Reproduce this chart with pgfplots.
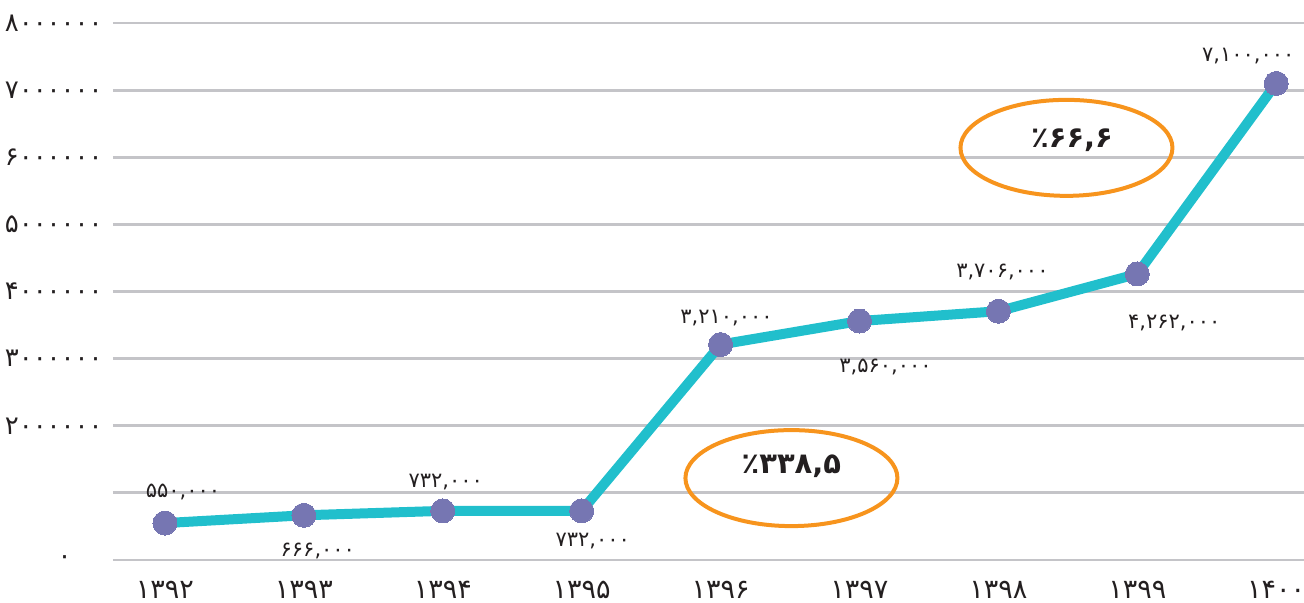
\documentclass[border=0pt]{standalone}
\usepackage{fontspec}
\usepackage{pgfplots}
\pgfplotsset{compat=1.18}
\newfontfamily\pfont{DejaVu Sans}
\definecolor{linec}{HTML}{21BFCC}
\definecolor{markc}{HTML}{7676B2}
\definecolor{gridc}{HTML}{C4C4C8}
\definecolor{orangec}{HTML}{F7941D}
\definecolor{txt}{HTML}{231F20}
\begin{document}
\begin{tikzpicture}
\path[use as bounding box] (-56.5pt,-21.5pt) rectangle (595.5pt,280pt);
\begin{axis}[
  at={(0,0)}, anchor=south west,
  scale only axis, width=595.5pt, height=268.5pt,
  xmin=-0.374, xmax=8.2, ymin=0, ymax=8000000,
  xtick={0,...,8},
  xticklabels={۱۳۹۲,۱۳۹۳,۱۳۹۴,۱۳۹۵,۱۳۹۶,۱۳۹۷,۱۳۹۸,۱۳۹۹,۱۴۰۰},
  ytick={0,1000000,2000000,3000000,4000000,5000000,6000000,7000000,8000000},
  yticklabels={۰\rule{15.5pt}{0pt},,۲۰۰۰۰۰۰,۳۰۰۰۰۰۰,۴۰۰۰۰۰۰,۵۰۰۰۰۰۰,۶۰۰۰۰۰۰,۷۰۰۰۰۰۰,۸۰۰۰۰۰۰},
  scaled y ticks=false,
  ymajorgrids, grid style={gridc, line width=1.4pt},
  axis line style={draw=none}, major tick length=0pt,
  xticklabel style={font=\pfont\fontsize{13.5}{14}\selectfont, text=txt, anchor=center, inner sep=0pt, yshift=-15pt},
  yticklabel style={font=\pfont\fontsize{13}{14}\selectfont, text=txt, anchor=east, inner sep=0pt, xshift=-5pt},
  clip=false,
]
\addplot[linec, line width=5pt, line join=round, mark=*, mark size=6pt, mark options={markc, fill=markc, line width=0pt}]
  coordinates {(0,550000)(1,666000)(2,732000)(3,732000)(4,3210000)(5,3560000)(6,3706000)(7,4262000)(8,7100000)};
\begin{scope}[every node/.style={font=\pfont\fontsize{10.5}{12}\selectfont, text=txt, inner sep=0pt}]
\node[xshift=9pt, yshift=15.5pt] at (axis cs:0,550000) {۵۵۰,۰۰۰};
\node[xshift=7pt, yshift=-18pt] at (axis cs:1,666000) {۶۶۶,۰۰۰};
\node[xshift=1.5pt, yshift=14.5pt] at (axis cs:2,732000) {۷۳۲,۰۰۰};
\node[xshift=5.5pt, yshift=-15pt] at (axis cs:3,732000) {۷۳۲,۰۰۰};
\node[xshift=3pt, yshift=13pt] at (axis cs:4,3210000) {۳,۲۱۰,۰۰۰};
\node[xshift=13pt, yshift=-23pt] at (axis cs:5,3560000) {۳,۵۶۰,۰۰۰};
\node[xshift=2pt, yshift=19.5pt] at (axis cs:6,3706000) {۳,۷۰۶,۰۰۰};
\node[xshift=18.5pt, yshift=-24.5pt] at (axis cs:7,4262000) {۴,۲۶۲,۰۰۰};
\node[xshift=-14pt, yshift=13.5pt] at (axis cs:8,7100000) {۷,۱۰۰,۰۰۰};
\end{scope}
\draw[orangec, line width=2pt] (axis cs:6.49,6140000) ellipse [x radius=53pt, y radius=24pt];
\draw[orangec, line width=2pt] (axis cs:4.51,1220000) ellipse [x radius=53pt, y radius=24pt];
\node[font=\pfont\bfseries\fontsize{14.5}{16}\selectfont, text=txt, inner sep=0pt] at (axis cs:6.53,6260000) {٪۶۶,۶};
\node[font=\pfont\bfseries\fontsize{14.5}{16}\selectfont, text=txt, inner sep=0pt] at (axis cs:4.51,1390000) {٪۳۳۸,۵};
\end{axis}
\end{tikzpicture}
\end{document}
